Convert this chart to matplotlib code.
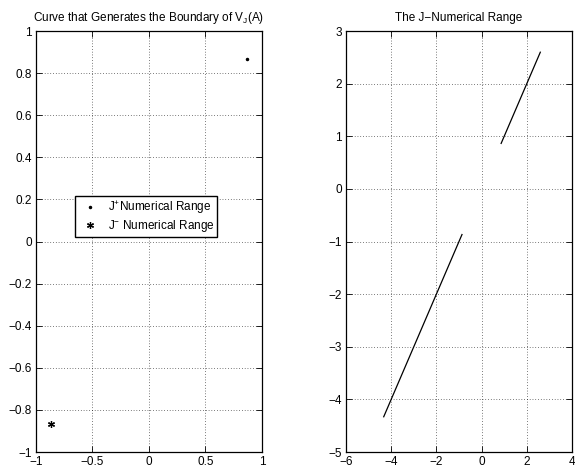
import numpy as np
import matplotlib
matplotlib.use('Agg')
import matplotlib.pyplot as plt
from matplotlib.ticker import FuncFormatter

plt.rcParams['font.family'] = ['Liberation Sans', 'DejaVu Sans']
plt.rcParams['mathtext.fontset'] = 'custom'
plt.rcParams['mathtext.rm'] = 'Liberation Sans'
plt.rcParams['mathtext.it'] = 'Liberation Sans'
plt.rcParams['font.size'] = 8.5

# points of the J+ / J- numerical range
jplus_x = [0.866]
jplus_y = [0.866]
jminus_x = [-0.866]
jminus_y = [-0.866]

# boundary segments of the J-numerical range
upper_x = [0.866, 2.6]
upper_y = [0.866, 2.6]
lower_x = [-4.33, -0.866]
lower_y = [-4.33, -0.866]

left_xticks = [-1, -0.5, 0, 0.5, 1]
left_yticks = [-1, -0.8, -0.6, -0.4, -0.2, 0, 0.2, 0.4, 0.6, 0.8, 1]
right_xticks = [-6, -4, -2, 0, 2, 4]
right_yticks = [-5, -4, -3, -2, -1, 0, 1, 2, 3]

fmt = FuncFormatter(lambda v, p: ('%g' % v).replace('-', '\u2212'))


def matlab_style(ax):
    ax.grid(True, linestyle=(0, (1, 3)), color='k', linewidth=0.5)
    ax.tick_params(direction='in', top=True, right=True, length=4, width=0.6, pad=3)
    for s in ax.spines.values():
        s.set_linewidth(0.9)
    ax.xaxis.set_major_formatter(fmt)
    ax.yaxis.set_major_formatter(fmt)


fig = plt.figure(figsize=(5.75, 4.75), dpi=100)

ax1 = fig.add_axes([0.0626, 0.0484, 0.393, 0.886])
ax1.plot(jplus_x, jplus_y, '.', color='k', markersize=3, label='J$^{+}$Numerical Range')
ax1.plot(jminus_x, jminus_y, marker=(6, 2, 0), linestyle='none', color='k',
         markersize=5, markeredgewidth=0.9, label='J$^{-}$ Numerical Range')
ax1.set_xlim(-1, 1)
ax1.set_ylim(-1, 1)
ax1.set_xticks(left_xticks)
ax1.set_yticks(left_yticks)
matlab_style(ax1)
ax1.set_title('Curve that Generates the Boundary of V$_{\\mathrm{J}}$(A)', fontsize=8.5, pad=7)
leg = ax1.legend(loc='upper left', bbox_to_anchor=(0.173, 0.608), fancybox=False,
                 edgecolor='k', framealpha=1, handlelength=2.0, handletextpad=0.5,
                 borderpad=0.25, labelspacing=0.15, fontsize=8.5, borderaxespad=0)
leg.get_frame().set_linewidth(1.0)

ax2 = fig.add_axes([0.6017, 0.0484, 0.393, 0.886])
ax2.plot(upper_x, upper_y, color='k', linewidth=0.9)
ax2.plot(lower_x, lower_y, color='k', linewidth=0.9)
ax2.set_xlim(-6, 4)
ax2.set_ylim(-5, 3)
ax2.set_xticks(right_xticks)
ax2.set_yticks(right_yticks)
matlab_style(ax2)
ax2.set_title('The J\u2212Numerical Range', fontsize=8.5, pad=7)

fig.savefig('out.png', dpi=100)
